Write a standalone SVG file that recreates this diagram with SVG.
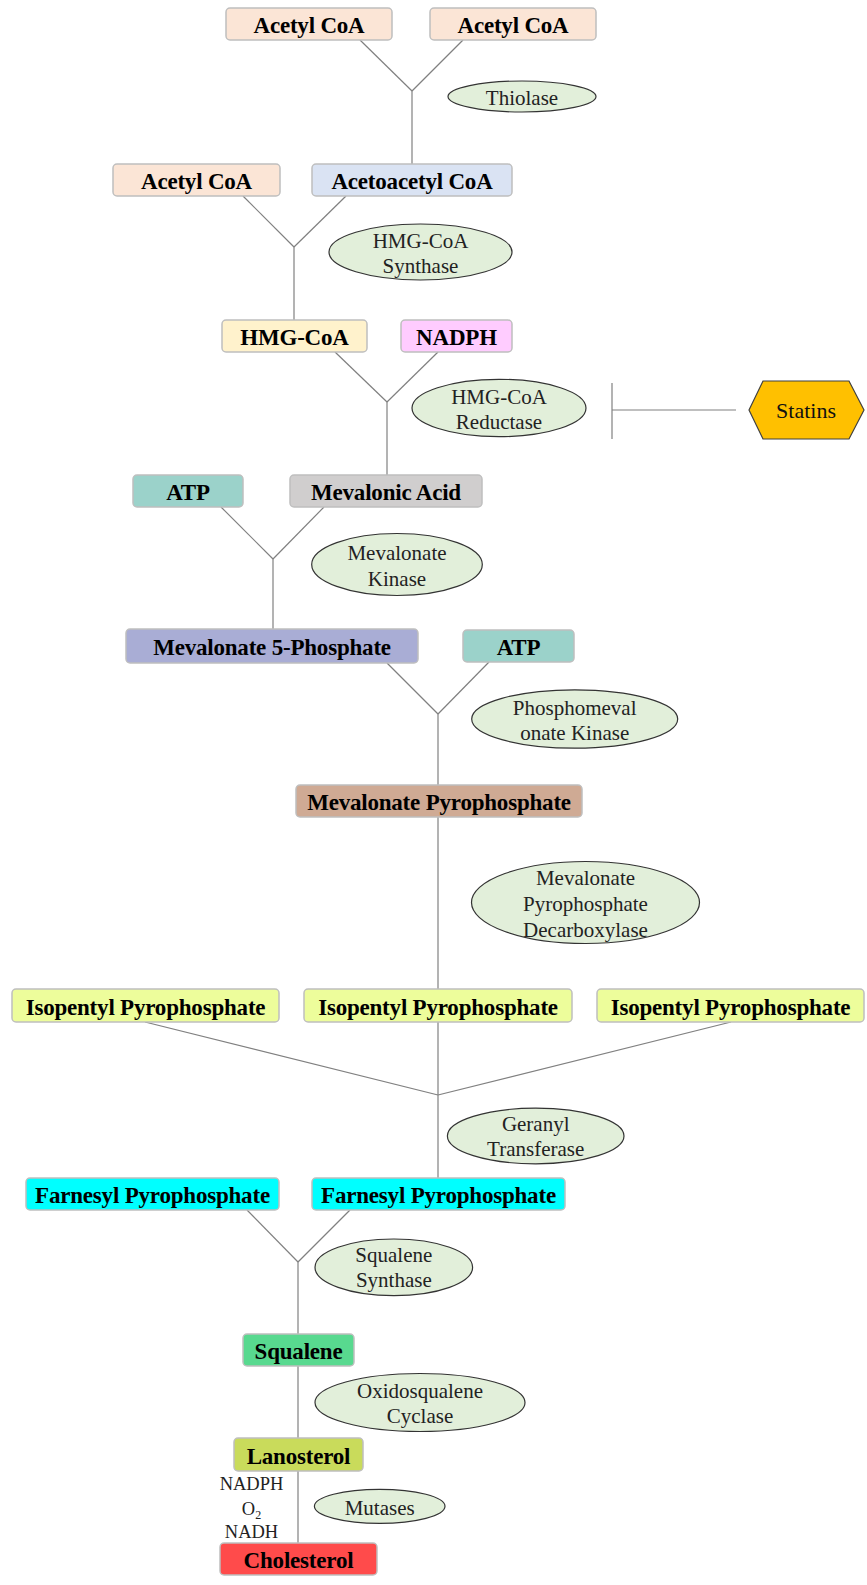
<svg xmlns="http://www.w3.org/2000/svg" width="867" height="1585" viewBox="0 0 867 1585">
<style>
.box{stroke:#BFBFBF;stroke-width:1.5}
.lbl{font-family:"Liberation Serif","Times New Roman",serif;font-weight:bold;font-size:23px;letter-spacing:-0.2px;fill:#000;text-anchor:middle}
.enz{fill:#E2EFDA;stroke:#333;stroke-width:1.2}
.et{font-family:"Liberation Serif","Times New Roman",serif;font-size:21px;fill:#222;text-anchor:middle}
.cof{font-family:"Liberation Serif","Times New Roman",serif;font-size:18.5px;fill:#222;text-anchor:middle}
.con line{stroke:#808080;stroke-width:1.2;fill:none}
</style>
<rect width="867" height="1585" fill="#fff"/>
<g id="connectors" class="con">
<line x1="360" y1="40" x2="412" y2="91"/><line x1="463" y1="40" x2="412" y2="91"/><line x1="412" y1="91" x2="412" y2="164"/>
<line x1="243" y1="196" x2="294" y2="247"/><line x1="346" y1="196" x2="294" y2="247"/><line x1="294" y1="247" x2="294" y2="320"/>
<line x1="335" y1="352" x2="387" y2="402"/><line x1="438" y1="352" x2="387" y2="402"/><line x1="387" y1="402" x2="387" y2="475"/>
<line x1="221" y1="507" x2="273" y2="559"/><line x1="324" y1="507" x2="273" y2="559"/><line x1="273" y1="559" x2="273" y2="629"/>
<line x1="387" y1="663" x2="438" y2="714"/><line x1="489" y1="662" x2="438" y2="714"/><line x1="438" y1="714" x2="438" y2="785"/>
<line x1="438" y1="817" x2="438" y2="989"/>
<line x1="145" y1="1022" x2="438" y2="1095"/><line x1="731" y1="1022" x2="438" y2="1095"/><line x1="438" y1="1022" x2="438" y2="1178"/>
<line x1="247" y1="1210" x2="298" y2="1262"/><line x1="350" y1="1210" x2="298" y2="1262"/><line x1="298" y1="1262" x2="298" y2="1334"/>
<line x1="298" y1="1366" x2="298" y2="1438"/>
<line x1="298" y1="1471" x2="298" y2="1543"/>
<line x1="736" y1="410" x2="612" y2="410"/><line x1="612" y1="383" x2="612" y2="439"/>
</g>
<g id="acetyl1"><rect class="box" x="226" y="8" width="166" height="32" rx="4" fill="#FBE5D6"/><text class="lbl" x="309" y="33">Acetyl CoA</text></g>
<g id="acetyl2"><rect class="box" x="430" y="8" width="166" height="32" rx="4" fill="#FBE5D6"/><text class="lbl" x="513" y="33">Acetyl CoA</text></g>
<g id="acetyl3"><rect class="box" x="113" y="164" width="167" height="32" rx="4" fill="#FBE5D6"/><text class="lbl" x="196.5" y="189">Acetyl CoA</text></g>
<g id="acetoacetyl"><rect class="box" x="312" y="164" width="200" height="32" rx="4" fill="#DAE3F3"/><text class="lbl" x="412" y="189">Acetoacetyl CoA</text></g>
<g id="hmgcoa"><rect class="box" x="222" y="320" width="145" height="32" rx="4" fill="#FFF2CC"/><text class="lbl" x="294.5" y="345">HMG-CoA</text></g>
<g id="nadph"><rect class="box" x="401" y="320" width="111" height="32" rx="4" fill="#FFCCFF"/><text class="lbl" x="456.5" y="345">NADPH</text></g>
<g id="atp1"><rect class="box" x="133" y="475" width="110" height="32" rx="4" fill="#9BD2CA"/><text class="lbl" x="188" y="500">ATP</text></g>
<g id="mevalonic"><rect class="box" x="290" y="475" width="192" height="32" rx="4" fill="#D0CECE"/><text class="lbl" x="386" y="500">Mevalonic Acid</text></g>
<g id="mev5p"><rect class="box" x="126" y="629" width="292" height="34" rx="4" fill="#A9ADD5"/><text class="lbl" x="272" y="655">Mevalonate 5-Phosphate</text></g>
<g id="atp2"><rect class="box" x="463" y="630" width="111" height="32" rx="4" fill="#9BD2CA"/><text class="lbl" x="518.5" y="655">ATP</text></g>
<g id="mevpp"><rect class="box" x="296" y="785" width="286" height="32" rx="4" fill="#CFAA94"/><text class="lbl" x="439" y="810">Mevalonate Pyrophosphate</text></g>
<g id="iso1"><rect class="box" x="12" y="989" width="267" height="33" rx="4" fill="#EDFD9B"/><text class="lbl" x="145.5" y="1015">Isopentyl Pyrophosphate</text></g>
<g id="iso2"><rect class="box" x="304" y="989" width="268" height="33" rx="4" fill="#EDFD9B"/><text class="lbl" x="438" y="1015">Isopentyl Pyrophosphate</text></g>
<g id="iso3"><rect class="box" x="597" y="989" width="267" height="33" rx="4" fill="#EDFD9B"/><text class="lbl" x="730.5" y="1015">Isopentyl Pyrophosphate</text></g>
<g id="farn1"><rect class="box" x="26" y="1178" width="253" height="32" rx="4" fill="#00FFFF"/><text class="lbl" x="152.5" y="1203">Farnesyl Pyrophosphate</text></g>
<g id="farn2"><rect class="box" x="312" y="1178" width="253" height="32" rx="4" fill="#00FFFF"/><text class="lbl" x="438.5" y="1203">Farnesyl Pyrophosphate</text></g>
<g id="squalene"><rect class="box" x="243" y="1334" width="111" height="32" rx="4" fill="#58D98F"/><text class="lbl" x="298.5" y="1359">Squalene</text></g>
<g id="lanosterol"><rect class="box" x="234" y="1438" width="129" height="33" rx="4" fill="#C9DB5B"/><text class="lbl" x="298.5" y="1464">Lanosterol</text></g>
<g id="cholesterol"><rect class="box" x="220" y="1543" width="157" height="32" rx="4" fill="#FF4B4B"/><text class="lbl" x="298.5" y="1568">Cholesterol</text></g>
<g id="thiolase"><ellipse class="enz" cx="522" cy="96.5" rx="74" ry="15.5"/><text class="et" x="522" y="105">Thiolase</text></g>
<g id="hmg-synthase"><ellipse class="enz" cx="420.5" cy="252" rx="91.5" ry="28"/><text class="et" x="420.5" y="247.5">HMG-CoA</text><text class="et" x="420.5" y="272.5">Synthase</text></g>
<g id="hmg-reductase"><ellipse class="enz" cx="499" cy="408" rx="87" ry="28.7"/><text class="et" x="499" y="403.5">HMG-CoA</text><text class="et" x="499" y="428.5">Reductase</text></g>
<g id="mev-kinase"><ellipse class="enz" cx="397" cy="564.5" rx="85.3" ry="31"/><text class="et" x="397" y="560">Mevalonate</text><text class="et" x="397" y="585.5">Kinase</text></g>
<g id="pmk"><ellipse class="enz" cx="574.7" cy="719" rx="103" ry="29.2"/><text class="et" x="574.7" y="714.5">Phosphomeval</text><text class="et" x="574.7" y="739.5">onate Kinase</text></g>
<g id="mpd"><ellipse class="enz" cx="585.5" cy="902.5" rx="114" ry="41"/><text class="et" x="585.5" y="885">Mevalonate</text><text class="et" x="585.5" y="911">Pyrophosphate</text><text class="et" x="585.5" y="936.5">Decarboxylase</text></g>
<g id="geranyl"><ellipse class="enz" cx="535.7" cy="1136" rx="88.3" ry="27.8"/><text class="et" x="535.7" y="1131">Geranyl</text><text class="et" x="535.7" y="1156">Transferase</text></g>
<g id="sq-synthase"><ellipse class="enz" cx="393.8" cy="1267.3" rx="78.8" ry="28.3"/><text class="et" x="393.8" y="1261.5">Squalene</text><text class="et" x="393.8" y="1287">Synthase</text></g>
<g id="oxido"><ellipse class="enz" cx="420" cy="1402.5" rx="105" ry="29"/><text class="et" x="420" y="1397.5">Oxidosqualene</text><text class="et" x="420" y="1423">Cyclase</text></g>
<g id="mutases"><ellipse class="enz" cx="379.7" cy="1506.3" rx="65.3" ry="17"/><text class="et" x="379.7" y="1515">Mutases</text></g>
<g id="cofactors"><text class="cof" x="251.5" y="1490">NADPH</text><text class="cof" x="251.5" y="1515">O<tspan font-size="12" dy="4">2</tspan></text><text class="cof" x="251.5" y="1538">NADH</text></g>
<g id="statins"><polygon points="749,410 763,381 849,381 864,410 849,439 763,439" fill="#FFC000" stroke="#404040" stroke-width="1.2"/><text x="806" y="418" font-family="'Liberation Serif','Times New Roman',serif" font-size="22" fill="#111" text-anchor="middle">Statins</text></g>
</svg>
